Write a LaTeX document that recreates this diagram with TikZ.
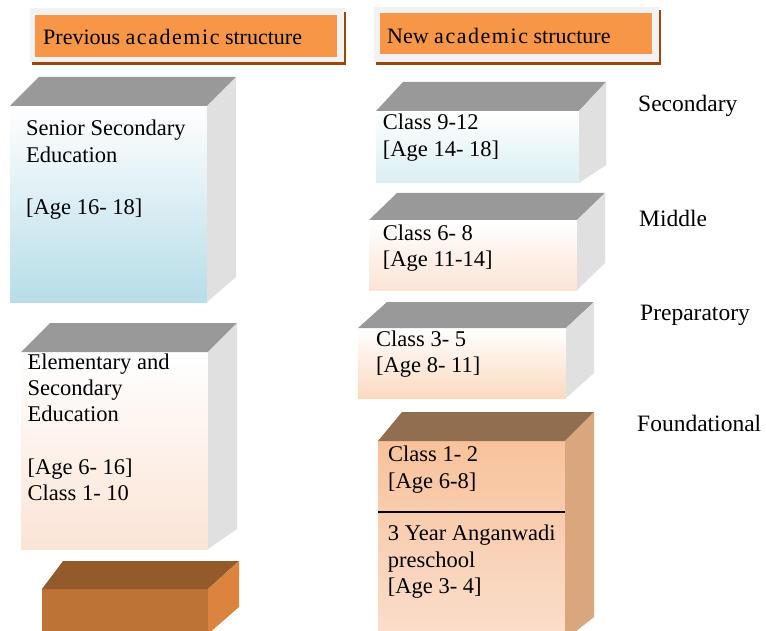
\documentclass[tikz,border=0pt]{standalone}
\usepackage{fontspec}
\IfFontExistsTF{LiberationSerif-Regular.ttf}
  {\setmainfont{LiberationSerif-Regular.ttf}}
  {\IfFontExistsTF{Liberation Serif}{\setmainfont{Liberation Serif}}{\setmainfont{DejaVu Serif}}}
\definecolor{orangeT}{HTML}{F79646}
\definecolor{greyT}{HTML}{F2F2F2}
\definecolor{shadowT}{HTML}{984807}
\definecolor{topGrey}{HTML}{999999}
\definecolor{sideGrey}{HTML}{E0E0E0}
\definecolor{blueB}{HTML}{B7DDE8}
\definecolor{blueL}{HTML}{DAEEF3}
\definecolor{peachB}{HTML}{FBE4D5}
\definecolor{brownTop}{HTML}{935A2B}
\definecolor{brownFront}{HTML}{BD7236}
\definecolor{brownSide}{HTML}{DA843E}
\definecolor{fTop}{HTML}{926E50}
\definecolor{fFrontA}{HTML}{F8C29B}
\definecolor{fFrontB}{HTML}{FADDCB}
\definecolor{fSide}{HTML}{D9A67E}
\newcommand{\acad}{{\addfontfeature{LetterSpace=7}academic}}
\tikzset{
  titlefont/.style={font=\rmfamily\fontsize{22}{26}\selectfont},
  bodytext/.style={anchor=base west, inner sep=0pt, font=\rmfamily\fontsize{22.5}{26.3}\selectfont},
  lvl/.style={anchor=base west, inner sep=0pt, font=\rmfamily\fontsize{23.5}{28}\selectfont},
  topface/.style={fill=topGrey},
  sideface/.style={fill=sideGrey},
}
\begin{document}
\begin{tikzpicture}[x=1pt,y=-1pt]
\useasboundingbox (0,0) rectangle (766,631);
\fill[white] (0,0) rectangle (766,631);
% ---- title boxes
\fill[greyT] (30,8) rectangle (345,63);
\fill[orangeT] (35,15) rectangle (337,57);
\draw[shadowT,line width=2.2pt] (345,12) -- (345,63.5) -- (32,63.5);
\node[titlefont,anchor=base west,inner sep=0pt] (tprev) at (43,45) {Previous \acad{} structure};
\fill[greyT] (374,7) rectangle (660,63);
\fill[orangeT] (380,13) rectangle (652,54);
\draw[shadowT,line width=2.2pt] (660,10) -- (660,63.5) -- (376,63.5);
\node[titlefont,anchor=base west,inner sep=0pt] (tnew) at (387,43.3) {New \acad{} structure};
% ---- left cube 1: Senior Secondary
\shade[top color=white,bottom color=blueB] (10,106) rectangle (207,302);
\fill[topface] (10,106) -- (207,106) -- (236,77) -- (39,77) -- cycle;
\fill[sideface] (207,106) -- (236,77) -- (236,277) -- (207,302) -- cycle;
\node[bodytext] (senior) at (26,136) {\begin{tabular}[t]{@{}l@{}}Senior Secondary\\Education\\ \\ \relax[Age 16- 18]\end{tabular}};
% ---- left cube 2: Elementary
\shade[top color=white,bottom color=peachB] (21,352) rectangle (208,549);
\fill[topface] (21,352) -- (208,352) -- (237,323) -- (50,323) -- cycle;
\fill[sideface] (208,352) -- (237,323) -- (237,529) -- (208,549) -- cycle;
\node[bodytext] (elem) at (27.5,369.3) {\begin{tabular}[t]{@{}l@{}}Elementary and\\Secondary\\Education\\ \\ \relax[Age 6- 16]\\Class 1- 10\end{tabular}};
% ---- left cube 3: brown
\fill[brownFront] (42,589) rectangle (208,631);
\fill[brownTop] (42,589) -- (208,589) -- (239,561) -- (63,561) -- cycle;
\fill[brownSide] (208,589) -- (239,561) -- (239,607) -- (208,634) -- cycle;
% ---- right cube: Secondary
\shade[top color=white,bottom color=blueL] (376,111) rectangle (579,183);
\fill[topface] (376,111) -- (579,111) -- (606,82) -- (403,82) -- cycle;
\fill[sideface] (579,111) -- (606,82) -- (606,165) -- (579,183) -- cycle;
\node[bodytext] (sec) at (382.7,130) {\begin{tabular}[t]{@{}l@{}}Class 9-12\\ \relax[Age 14- 18]\end{tabular}};
% ---- right cube: Middle
\shade[top color=white,bottom color=peachB] (369,220) rectangle (577,290);
\fill[topface] (369,220) -- (577,220) -- (605,193) -- (397,193) -- cycle;
\fill[sideface] (577,220) -- (605,193) -- (605,263) -- (577,290) -- cycle;
\node[bodytext] (mid) at (382.7,240.7) {\begin{tabular}[t]{@{}l@{}}Class 6- 8\\ \relax[Age 11-14]\end{tabular}};
% ---- right cube: Preparatory
\shade[top color=white,bottom color=peachB!90!orange] (358,328) rectangle (566,398);
\fill[topface] (358,328) -- (566,328) -- (594,302) -- (387,302) -- cycle;
\fill[sideface] (566,328) -- (594,302) -- (594,373) -- (566,398) -- cycle;
\node[bodytext] (prep) at (376,346) {\begin{tabular}[t]{@{}l@{}}Class 3- 5\\ \relax[Age 8- 11]\end{tabular}};
% ---- right cube: Foundational
\shade[top color=fFrontA,bottom color=fFrontB] (378,441) rectangle (565,631);
\fill[fTop] (378,441) -- (565,441) -- (594,412) -- (402,412) -- cycle;
\fill[fSide] (565,441) -- (594,412) -- (594,617) -- (565,640) -- cycle;
\draw[black,line width=1.2pt] (378,512) -- (565,512);
\node[bodytext] (found1) at (388,461.7) {\begin{tabular}[t]{@{}l@{}}Class 1- 2\\ \relax[Age 6-8]\end{tabular}};
\node[bodytext] (found2) at (387.7,540.7) {\begin{tabular}[t]{@{}l@{}}3 Year Anganwadi\\preschool\\ \relax[Age 3- 4]\end{tabular}};
% ---- stage labels
\node[lvl] (lsec) at (638,111.7) {Secondary};
\node[lvl] (lmid) at (639,226.7) {Middle};
\node[lvl] (lprep) at (640,320) {Preparatory};
\node[lvl] (lfound) at (637,431.7) {Foundational};
\end{tikzpicture}
\end{document}
